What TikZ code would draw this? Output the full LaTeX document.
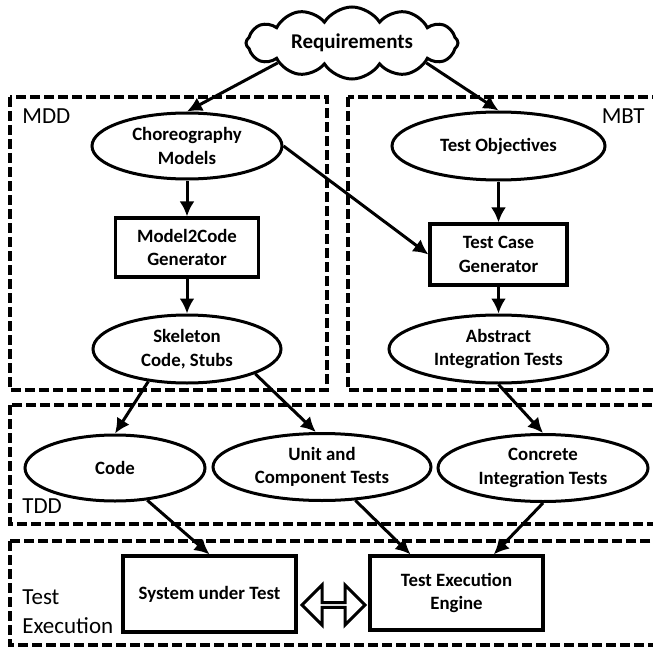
\documentclass[tikz,border=0pt]{standalone}
\usepackage{fontspec}
\setmainfont{Carlito}
\usetikzlibrary{shapes.geometric, shapes.symbols, shapes.arrows, arrows.meta}

\begin{document}
\begin{tikzpicture}[x=0.5pt, y=-0.5pt,
                every node/.style={font=\fontsize{9.4}{11.7}\selectfont\bfseries, align=center},
                ell/.style={draw, ellipse, line width=1.5pt, inner sep=0pt},
                blk/.style={draw, rectangle, line width=1.6pt, inner sep=0pt},
                grp/.style={draw, line width=1.6pt, dash pattern=on 5pt off 2pt},
                lbl/.style={font=\fontsize{11.5}{14.5}\selectfont, align=left, inner sep=0pt},
                arr/.style={-{Latex[length=7.5pt, width=7.5pt]}, line width=1.5pt}]
                \useasboundingbox (0, 0) rectangle (653, 647);
                \draw[grp] (10, 97) rectangle (327, 390);
                \draw[grp] (348, 97) rectangle (660, 390);
                \draw[grp] (10, 405) rectangle (660, 524);
                \draw[grp] (10, 541) rectangle (660, 645);
                \node[lbl, anchor=west] (mddlbl) at (22, 116) {MDD};
                \node[lbl, anchor=east] (mbtlbl) at (645, 116.5) {MBT};
                \node[lbl, anchor=west] (tddlbl) at (22, 506.5) {TDD};
                \node[lbl, anchor=west] (exlbl) at (22, 612) {Test\\Execution};
                \node[cloud, draw, line width=1.5pt, cloud puffs=12, cloud puff arc=115, cloud ignores aspect,
                      minimum width=106pt, minimum height=36pt, inner sep=0pt,
                      font=\fontsize{10.5}{12.5}\selectfont\bfseries] (req) at (352, 43) {Requirements};
                \node[ell, minimum width=95pt, minimum height=33pt] (cm) at (187, 146) {Choreography\\Models};
                \node[blk, minimum width=71.5pt, minimum height=29.5pt] (m2c) at (187, 247.5) {Model2Code\\Generator};
                \node[ell, minimum width=94pt, minimum height=34pt] (skel) at (187, 349) {Skeleton\\Code, Stubs};
                \node[ell, minimum width=106.5pt, minimum height=34pt] (obj) at (498.5, 146) {Test Objectives};
                \node[blk, minimum width=68.5pt, minimum height=30.5pt] (tcg) at (498.5, 254.5) {Test Case\\Generator};
                \node[ell, minimum width=109.5pt, minimum height=34pt] (abs) at (498.5, 349) {Abstract\\Integration Tests};
                \node[ell, minimum width=90pt, minimum height=33pt] (code) at (115, 468) {Code};
                \node[ell, minimum width=109pt, minimum height=33.5pt] (unit) at (322, 467) {Unit and\\Component Tests};
                \node[ell, minimum width=105pt, minimum height=33.5pt] (conc) at (543, 468) {Concrete\\Integration Tests};
                \node[blk, minimum width=86.5pt, minimum height=38pt] (sut) at (209.5, 594) {System under Test};
                \node[blk, minimum width=86.5pt, minimum height=37pt] (tee) at (456.5, 593) {Test Execution\\Engine};
                \node[double arrow, draw, line width=1.5pt, double arrow tip angle=90, double arrow head extend=5.5pt,
                      minimum width=20pt, minimum height=31.5pt, inner sep=0pt] (swap) at (333.5, 605) {};
                \draw[arr] (req.195) -- (cm.north);
                \draw[arr] (req.-15) -- (obj.north);
                \draw[arr] (cm.south) -- (m2c.north);
                \draw[arr] (cm.east) -- (tcg.west);
                \draw[arr] (m2c.south) -- (skel.north);
                \draw[arr] (obj.south) -- (tcg.north);
                \draw[arr] (tcg.south) -- (abs.north);
                \draw[arr] (skel.220) -- (code.north);
                \draw[arr] (skel.-20) -- (unit.100);
                \draw[arr] (abs.south) -- (conc.north);
                \draw[arr] (code.-45) -- (sut.north);
                \draw[arr] (unit.-45) -- (tee.140);
                \draw[arr] (conc.south) -- (tee.46);
            \end{tikzpicture}
\end{document}
